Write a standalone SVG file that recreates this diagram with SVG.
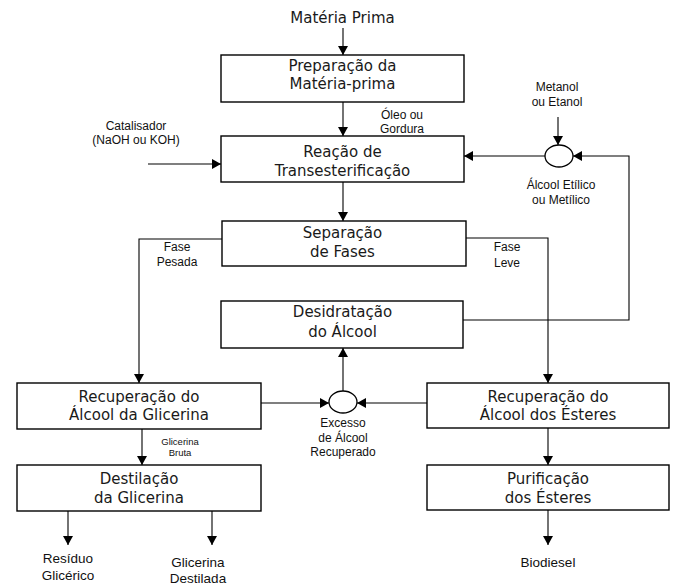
<svg xmlns="http://www.w3.org/2000/svg" width="674" height="587" viewBox="0 0 674 587">
<style>
.box{fill:#fff;stroke:#000;stroke-width:1.4}
.t{font-family:"DejaVu Sans",sans-serif;font-size:15px;fill:#1a1a1a;text-anchor:middle}
.s{font-family:"Liberation Sans",Arial,sans-serif;font-size:12px;fill:#111;text-anchor:middle}
.m{font-family:"Liberation Sans",Arial,sans-serif;font-size:13.5px;fill:#111;text-anchor:middle}
.xs{font-family:"Liberation Sans",Arial,sans-serif;font-size:9.5px;fill:#111;text-anchor:middle}
.c{fill:none;stroke:#000;stroke-width:1.1}
.a{marker-end:url(#ah)}
.el{fill:#fff;stroke:#000;stroke-width:1.3}
</style>
<defs>
<marker id="ah" viewBox="0 0 9 10" refX="9" refY="5" markerWidth="9" markerHeight="10" markerUnits="userSpaceOnUse" orient="auto">
<path d="M0,0 L9,5 L0,10 z" fill="#000"/>
</marker>
</defs>
<rect width="674" height="587" fill="#fff"/>
<g id="connectors">
<path class="c a" d="M343,28 V55"/>
<path class="c a" d="M343,102 V136"/>
<path class="c a" d="M343,182 V221"/>
<path class="c a" d="M148,164 H221"/>
<path class="c a" d="M558,117 V145"/>
<path class="c a" d="M545,156 H464"/>
<path class="c a" d="M463,320 H629 V156 H573"/>
<path class="c a" d="M222,239 H139 V383"/>
<path class="c a" d="M466,238 H548 V383"/>
<path class="c a" d="M261,403 H329"/>
<path class="c a" d="M427,403 H357"/>
<path class="c a" d="M343,391 V348"/>
<path class="c a" d="M142,429 V465"/>
<path class="c a" d="M548,428 V465"/>
<path class="c a" d="M68,511 V545"/>
<path class="c a" d="M212,511 V545"/>
<path class="c a" d="M548,510 V545"/>
</g>
<g id="materia-prima"><text class="t" x="342.5" y="23">Matéria Prima</text></g>
<g id="preparacao">
<rect class="box" x="221" y="55" width="243" height="47"/>
<text class="t" x="342.5" y="71">Preparação da</text>
<text class="t" x="342.5" y="89">Matéria-prima</text>
</g>
<g id="reacao">
<rect class="box" x="221" y="136" width="243" height="46"/>
<text class="t" x="342.5" y="157">Reação de</text>
<text class="t" x="342.5" y="176">Transesterificação</text>
</g>
<g id="separacao">
<rect class="box" x="222" y="221" width="244" height="45"/>
<text class="t" x="342.5" y="238">Separação</text>
<text class="t" x="342.5" y="257">de Fases</text>
</g>
<g id="desidratacao">
<rect class="box" x="221" y="301" width="242" height="47"/>
<text class="t" x="342.5" y="317">Desidratação</text>
<text class="t" x="342.5" y="337">do Álcool</text>
</g>
<g id="rec-glicerina">
<rect class="box" x="17" y="383" width="244" height="46"/>
<text class="t" x="139" y="402">Recuperação do</text>
<text class="t" x="139" y="420">Álcool da Glicerina</text>
</g>
<g id="rec-esteres">
<rect class="box" x="427" y="383" width="242" height="45"/>
<text class="t" x="548" y="402">Recuperação do</text>
<text class="t" x="548" y="420">Álcool dos Ésteres</text>
</g>
<g id="destilacao">
<rect class="box" x="17" y="465" width="244" height="46"/>
<text class="t" x="139" y="484">Destilação</text>
<text class="t" x="139" y="503">da Glicerina</text>
</g>
<g id="purificacao">
<rect class="box" x="427" y="465" width="242" height="45"/>
<text class="t" x="548" y="484">Purificação</text>
<text class="t" x="548" y="503">dos Ésteres</text>
</g>
<g id="mix-alcool">
<ellipse class="el" cx="559" cy="156" rx="14" ry="11"/>
</g>
<g id="excesso">
<ellipse class="el" cx="343" cy="402" rx="14" ry="11"/>
</g>
<g id="labels">
<text class="s" x="402" y="119">Óleo ou</text>
<text class="s" x="402" y="133">Gordura</text>
<text class="s" x="136" y="130">Catalisador</text>
<text class="s" x="136" y="144">(NaOH ou KOH)</text>
<text class="s" x="557" y="91">Metanol</text>
<text class="s" x="557" y="106">ou Etanol</text>
<text class="s" x="561" y="189">Álcool Etílico</text>
<text class="s" x="561" y="204">ou Metílico</text>
<text class="s" x="177" y="251">Fase</text>
<text class="s" x="177" y="266">Pesada</text>
<text class="s" x="507" y="251">Fase</text>
<text class="s" x="507" y="267">Leve</text>
<text class="xs" x="180" y="445">Glicerina</text>
<text class="xs" x="180" y="456">Bruta</text>
<text class="s" x="343" y="427">Excesso</text>
<text class="s" x="343" y="442">de Álcool</text>
<text class="s" x="343" y="456">Recuperado</text>
<text class="m" x="68" y="563">Resíduo</text>
<text class="m" x="68" y="580">Glicérico</text>
<text class="m" x="198" y="567">Glicerina</text>
<text class="m" x="198" y="583">Destilada</text>
<text class="m" x="548" y="567">Biodiesel</text>
</g>
</svg>
